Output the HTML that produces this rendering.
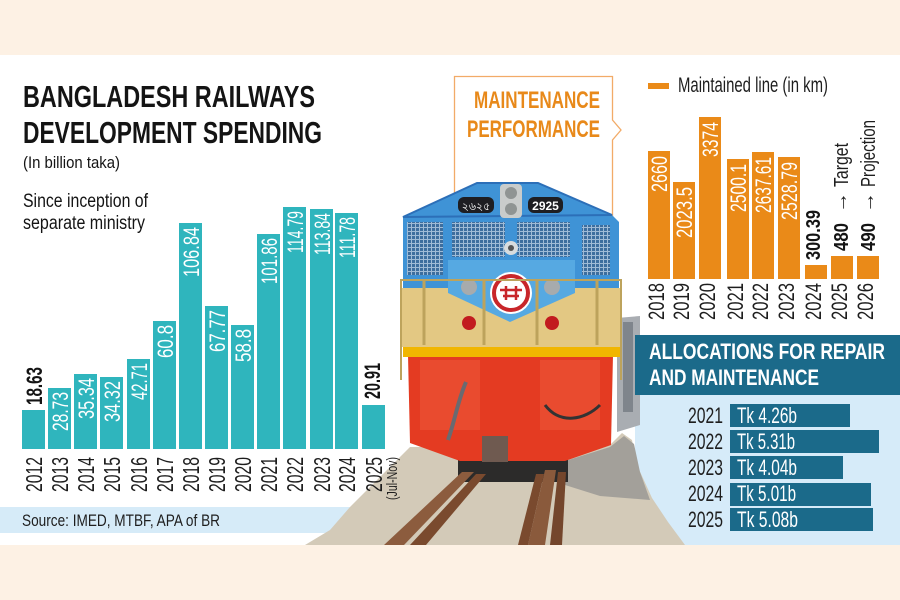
<!DOCTYPE html>
<html>
<head>
<meta charset="utf-8">
<style>
html,body{margin:0;padding:0;background:#fff;}
svg{display:block;}
</style>
</head>
<body>
<svg width="900" height="600" viewBox="0 0 900 600" xmlns="http://www.w3.org/2000/svg" font-family="'Liberation Sans', Arial, sans-serif">
<defs>
  <pattern id="mesh" width="4" height="4" patternUnits="userSpaceOnUse">
    <rect width="4" height="4" fill="#9fbbd6"/>
    <rect x="0" y="0" width="3" height="3" fill="#3d6e9e"/>
  </pattern>
</defs>

<rect width="900" height="600" fill="#ffffff"/>
<rect x="0" y="0" width="900" height="55" fill="#fdf1e4"/>
<rect x="0" y="545" width="900" height="55" fill="#fdf1e4"/>

<!-- Source band -->
<rect x="0" y="507" width="360" height="26" fill="#d6ebf8"/>

<!-- Allocation panel background -->
<rect x="635" y="395" width="265" height="150" fill="#d6ebf9"/>

<!-- grey car behind train -->
<polygon points="617,318 640,316 640,425 617,432" fill="#a9adb2"/>
<rect x="623" y="322" width="10" height="90" fill="#7f858c"/>

<!-- gravel -->
<polygon points="305,545 330,530 350,507 380,477 410,447 610,445 622,433 632,440 637,465 652,498 668,522 685,545" fill="#d3cab8"/>
<polygon points="562,462 610,447 624,436 634,444 640,472 650,500 600,496 565,485" fill="#a3a09a"/>

<!-- underframe -->
<rect x="458" y="450" width="110" height="32" fill="#2c2b2a"/>

<!-- rails -->
<polygon points="476,474 486,474 426,545 410,545" fill="#7a4a2e"/>
<polygon points="462,472 474,472 404,545 384,545" fill="#8c5c3e"/>
<polygon points="545,470 556,470 545,545 528,545" fill="#8a5a3c"/>
<polygon points="558,472 566,472 562,545 550,545" fill="#74462c"/>
<polygon points="536,474 544,474 528,545 518,545" fill="#7a4a2e"/>

<!-- Title block -->
<g fill="#141414">
  <text x="23" y="107" font-size="31" font-weight="bold" textLength="292" lengthAdjust="spacingAndGlyphs">BANGLADESH RAILWAYS</text>
  <text x="23" y="143" font-size="31" font-weight="bold" textLength="299" lengthAdjust="spacingAndGlyphs">DEVELOPMENT SPENDING</text>
  <text x="23" y="168" font-size="17" textLength="97" lengthAdjust="spacingAndGlyphs">(In billion taka)</text>
  <text x="23" y="207" font-size="19" textLength="125" lengthAdjust="spacingAndGlyphs">Since inception of</text>
  <text x="23" y="229" font-size="19" textLength="122" lengthAdjust="spacingAndGlyphs">separate ministry</text>
</g>

<text x="22" y="526" font-size="17" fill="#1e1e1e" textLength="198" lengthAdjust="spacingAndGlyphs">Source: IMED, MTBF, APA of BR</text>

<!-- Left teal bars -->
<g fill="#2fb5bd">
  <rect x="22" y="410" width="23" height="39"/>
  <rect x="48" y="388" width="23" height="61"/>
  <rect x="74" y="374" width="23" height="75"/>
  <rect x="100" y="377" width="23" height="72"/>
  <rect x="127" y="359" width="23" height="90"/>
  <rect x="153" y="321" width="23" height="128"/>
  <rect x="179" y="223" width="23" height="226"/>
  <rect x="205" y="306" width="23" height="143"/>
  <rect x="231" y="325" width="23" height="124"/>
  <rect x="257" y="234" width="23" height="215"/>
  <rect x="283" y="207" width="23" height="242"/>
  <rect x="310" y="209" width="23" height="240"/>
  <rect x="335" y="213" width="23" height="236"/>
  <rect x="362" y="405" width="23" height="44"/>
</g>
<!-- inside labels -->
<g fill="#ffffff" font-size="22" text-anchor="end">
  <text transform="translate(68,392) rotate(-90)" textLength="39" lengthAdjust="spacingAndGlyphs">28.73</text>
  <text transform="translate(94,378) rotate(-90)" textLength="41" lengthAdjust="spacingAndGlyphs">35.34</text>
  <text transform="translate(120,381) rotate(-90)" textLength="41" lengthAdjust="spacingAndGlyphs">34.32</text>
  <text transform="translate(147,363) rotate(-90)" textLength="37" lengthAdjust="spacingAndGlyphs">42.71</text>
  <text transform="translate(173,325) rotate(-90)" textLength="33" lengthAdjust="spacingAndGlyphs">60.8</text>
  <text transform="translate(199,227) rotate(-90)" textLength="50" lengthAdjust="spacingAndGlyphs">106.84</text>
  <text transform="translate(225,310) rotate(-90)" textLength="42" lengthAdjust="spacingAndGlyphs">67.77</text>
  <text transform="translate(251,329) rotate(-90)" textLength="33" lengthAdjust="spacingAndGlyphs">58.8</text>
  <text transform="translate(277,238) rotate(-90)" textLength="46" lengthAdjust="spacingAndGlyphs">101.86</text>
  <text transform="translate(303,211) rotate(-90)" textLength="42" lengthAdjust="spacingAndGlyphs">114.79</text>
  <text transform="translate(330,213) rotate(-90)" textLength="42" lengthAdjust="spacingAndGlyphs">113.84</text>
  <text transform="translate(355,217) rotate(-90)" textLength="41" lengthAdjust="spacingAndGlyphs">111.78</text>
</g>
<g fill="#141414" font-size="22" font-weight="bold">
  <text transform="translate(42,405) rotate(-90)" textLength="38" lengthAdjust="spacingAndGlyphs">18.63</text>
  <text transform="translate(380,399) rotate(-90)" textLength="36" lengthAdjust="spacingAndGlyphs">20.91</text>
</g>
<!-- left years -->
<g fill="#1e1e1e" font-size="23">
  <text transform="translate(42,492) rotate(-90)" textLength="35" lengthAdjust="spacingAndGlyphs">2012</text>
  <text transform="translate(68,492) rotate(-90)" textLength="35" lengthAdjust="spacingAndGlyphs">2013</text>
  <text transform="translate(94,492) rotate(-90)" textLength="35" lengthAdjust="spacingAndGlyphs">2014</text>
  <text transform="translate(120,492) rotate(-90)" textLength="35" lengthAdjust="spacingAndGlyphs">2015</text>
  <text transform="translate(147,492) rotate(-90)" textLength="35" lengthAdjust="spacingAndGlyphs">2016</text>
  <text transform="translate(173,492) rotate(-90)" textLength="35" lengthAdjust="spacingAndGlyphs">2017</text>
  <text transform="translate(199,492) rotate(-90)" textLength="35" lengthAdjust="spacingAndGlyphs">2018</text>
  <text transform="translate(225,492) rotate(-90)" textLength="35" lengthAdjust="spacingAndGlyphs">2019</text>
  <text transform="translate(251,492) rotate(-90)" textLength="35" lengthAdjust="spacingAndGlyphs">2020</text>
  <text transform="translate(277,492) rotate(-90)" textLength="35" lengthAdjust="spacingAndGlyphs">2021</text>
  <text transform="translate(303,492) rotate(-90)" textLength="35" lengthAdjust="spacingAndGlyphs">2022</text>
  <text transform="translate(330,492) rotate(-90)" textLength="35" lengthAdjust="spacingAndGlyphs">2023</text>
  <text transform="translate(355,492) rotate(-90)" textLength="35" lengthAdjust="spacingAndGlyphs">2024</text>
  <text transform="translate(382,492) rotate(-90)" textLength="35" lengthAdjust="spacingAndGlyphs">2025</text>
  <text transform="translate(397,500) rotate(-90)" font-size="15" textLength="43" lengthAdjust="spacingAndGlyphs">(Jul-Nov)</text>
</g>

<!-- Allocation header -->
<rect x="635" y="335" width="265" height="60" fill="#1b6a8a"/>
<text x="649" y="359" font-size="22" font-weight="bold" fill="#ffffff" textLength="236" lengthAdjust="spacingAndGlyphs">ALLOCATIONS FOR REPAIR</text>
<text x="649" y="385" font-size="22" font-weight="bold" fill="#ffffff" textLength="170" lengthAdjust="spacingAndGlyphs">AND MAINTENANCE</text>

<!-- Orange chart legend -->
<rect x="648" y="83" width="21" height="6" fill="#ea8a18"/>
<text x="678" y="92" font-size="21" fill="#1e1e1e" textLength="150" lengthAdjust="spacingAndGlyphs">Maintained line (in km)</text>

<!-- Orange bars -->
<g fill="#ea8a18">
  <rect x="648" y="151" width="22" height="128"/>
  <rect x="673" y="182" width="22" height="97"/>
  <rect x="699" y="117" width="22" height="162"/>
  <rect x="727" y="159" width="22" height="120"/>
  <rect x="752" y="152" width="22" height="127"/>
  <rect x="778" y="157" width="22" height="122"/>
  <rect x="805" y="265" width="22" height="14"/>
  <rect x="831" y="256" width="22" height="23"/>
  <rect x="857" y="256" width="22" height="23"/>
</g>
<g fill="#ffffff" font-size="22" text-anchor="end">
  <text transform="translate(667,156) rotate(-90)" textLength="36" lengthAdjust="spacingAndGlyphs">2660</text>
  <text transform="translate(692,187) rotate(-90)" textLength="51" lengthAdjust="spacingAndGlyphs">2023.5</text>
  <text transform="translate(718,122) rotate(-90)" textLength="35" lengthAdjust="spacingAndGlyphs">3374</text>
  <text transform="translate(746,164) rotate(-90)" textLength="48" lengthAdjust="spacingAndGlyphs">2500.1</text>
  <text transform="translate(771,157) rotate(-90)" textLength="56" lengthAdjust="spacingAndGlyphs">2637.61</text>
  <text transform="translate(797,162) rotate(-90)" textLength="58" lengthAdjust="spacingAndGlyphs">2528.79</text>
</g>
<g fill="#141414" font-size="20" font-weight="bold">
  <text transform="translate(820,260) rotate(-90)" textLength="50" lengthAdjust="spacingAndGlyphs">300.39</text>
  <text transform="translate(848,251) rotate(-90)" textLength="28" lengthAdjust="spacingAndGlyphs">480</text>
  <text transform="translate(875,251) rotate(-90)" textLength="28" lengthAdjust="spacingAndGlyphs">490</text>
</g>
<g fill="#1e1e1e" font-size="20">
  <text transform="translate(847,213) rotate(-90)" textLength="21" lengthAdjust="spacingAndGlyphs">→</text>
  <text transform="translate(848,187) rotate(-90)" textLength="44" lengthAdjust="spacingAndGlyphs">Target</text>
  <text transform="translate(874,213) rotate(-90)" textLength="21" lengthAdjust="spacingAndGlyphs">→</text>
  <text transform="translate(875,187) rotate(-90)" textLength="67" lengthAdjust="spacingAndGlyphs">Projection</text>
</g>
<g fill="#1e1e1e" font-size="22">
  <text transform="translate(664,320) rotate(-90)" textLength="37" lengthAdjust="spacingAndGlyphs">2018</text>
  <text transform="translate(689,320) rotate(-90)" textLength="37" lengthAdjust="spacingAndGlyphs">2019</text>
  <text transform="translate(715,320) rotate(-90)" textLength="37" lengthAdjust="spacingAndGlyphs">2020</text>
  <text transform="translate(743,320) rotate(-90)" textLength="37" lengthAdjust="spacingAndGlyphs">2021</text>
  <text transform="translate(768,320) rotate(-90)" textLength="37" lengthAdjust="spacingAndGlyphs">2022</text>
  <text transform="translate(794,320) rotate(-90)" textLength="37" lengthAdjust="spacingAndGlyphs">2023</text>
  <text transform="translate(821,320) rotate(-90)" textLength="37" lengthAdjust="spacingAndGlyphs">2024</text>
  <text transform="translate(847,320) rotate(-90)" textLength="37" lengthAdjust="spacingAndGlyphs">2025</text>
  <text transform="translate(873,320) rotate(-90)" textLength="37" lengthAdjust="spacingAndGlyphs">2026</text>
</g>

<!-- Maintenance performance box -->
<path d="M454.5,200 V76.5 H612.5 V120 L621,130 L612.5,140 V220" fill="none" stroke="#f2ab68" stroke-width="1.3"/>
<text x="474" y="108" font-size="24" font-weight="bold" fill="#e8891a" textLength="126" lengthAdjust="spacingAndGlyphs">MAINTENANCE</text>
<text x="467" y="137" font-size="24" font-weight="bold" fill="#e8891a" textLength="133" lengthAdjust="spacingAndGlyphs">PERFORMANCE</text>

<!-- Train body -->
<polygon points="408,355 613,355 611,445 565,461 460,461 410,443" fill="#e43b22"/>
<rect x="420" y="360" width="60" height="70" fill="#ec5638" opacity="0.6"/>
<rect x="540" y="360" width="60" height="70" fill="#ec5638" opacity="0.6"/>
<rect x="482" y="436" width="26" height="26" fill="#6f5a50"/>
<path d="M466,382 C458,400 455,420 448,440" stroke="#6a6a70" stroke-width="4" fill="none"/>
<path d="M545,405 C560,425 585,420 600,405" stroke="#333" stroke-width="3" fill="none"/>
<rect x="403" y="346" width="217" height="11" fill="#f1b600"/>
<polygon points="403,217 477,183 538,183 612,215 619,222 619,292 403,292" fill="#3f93d6"/>
<polygon points="403,217 477,183 538,183 612,215" fill="none" stroke="#2c6fb8" stroke-width="2"/>
<rect x="402" y="288" width="218" height="59" fill="#e3c883"/>
<polygon points="448,260 575,260 575,293 510,322 448,293" fill="#56a9e2"/>
<rect x="407" y="222" width="36" height="53" fill="url(#mesh)"/>
<rect x="452" y="222" width="53" height="35" fill="url(#mesh)"/>
<rect x="517" y="222" width="53" height="35" fill="url(#mesh)"/>
<rect x="582" y="225" width="28" height="50" fill="url(#mesh)"/>
<rect x="458" y="197" width="36" height="16" rx="6" fill="#1e1e22"/>
<rect x="528" y="197" width="35" height="16" rx="6" fill="#1e1e22"/>
<text x="476" y="210" font-size="11" fill="#ffffff" text-anchor="middle" font-family="'Liberation Sans', 'DejaVu Sans', sans-serif">২৬২৫</text>
<text x="545.5" y="210" font-size="12" font-weight="bold" fill="#ffffff" text-anchor="middle">2925</text>
<rect x="500" y="184" width="22" height="34" rx="4" fill="#c9cccb"/>
<circle cx="511" cy="193" r="6" fill="#8f9493"/>
<circle cx="511" cy="209" r="6" fill="#8f9493"/>
<circle cx="511" cy="248" r="7" fill="#d8dcde"/>
<circle cx="511" cy="248" r="3" fill="#555"/>
<circle cx="511" cy="293" r="21" fill="#ffffff"/>
<circle cx="511" cy="293" r="17" fill="none" stroke="#c8262a" stroke-width="4"/>
<path d="M500,290 h22 M503,296 h16 M506,286 v14 M516,286 v14" stroke="#c8262a" stroke-width="2.5" fill="none"/>
<circle cx="469" cy="287" r="8" fill="#a7abad"/>
<circle cx="552" cy="287" r="8" fill="#a7abad"/>
<circle cx="469" cy="323" r="7" fill="#c21b1f"/>
<circle cx="552" cy="323" r="7" fill="#c21b1f"/>
<g stroke="#bda35c" fill="none">
  <path d="M401,380 V280 H621 V380" stroke-width="2"/>
  <path d="M424,280 V345 M484,280 V345 M537,280 V345 M597,280 V345" stroke-width="3"/>
</g>

<!-- Allocation rows -->
<g fill="#1b6a8a">
  <rect x="730" y="404" width="120" height="23"/>
  <rect x="730" y="430" width="149" height="23"/>
  <rect x="730" y="456" width="113" height="23"/>
  <rect x="730" y="483" width="141" height="23"/>
  <rect x="730" y="508" width="143" height="23"/>
</g>
<g fill="#1e1e1e" font-size="22" text-anchor="end">
  <text x="723" y="423" textLength="35" lengthAdjust="spacingAndGlyphs">2021</text>
  <text x="723" y="449" textLength="35" lengthAdjust="spacingAndGlyphs">2022</text>
  <text x="723" y="475" textLength="35" lengthAdjust="spacingAndGlyphs">2023</text>
  <text x="723" y="501" textLength="35" lengthAdjust="spacingAndGlyphs">2024</text>
  <text x="723" y="527" textLength="35" lengthAdjust="spacingAndGlyphs">2025</text>
</g>
<g fill="#ffffff" font-size="22">
  <text x="737" y="423" textLength="60" lengthAdjust="spacingAndGlyphs">Tk 4.26b</text>
  <text x="737" y="449" textLength="58" lengthAdjust="spacingAndGlyphs">Tk 5.31b</text>
  <text x="737" y="475" textLength="60" lengthAdjust="spacingAndGlyphs">Tk 4.04b</text>
  <text x="737" y="501" textLength="59" lengthAdjust="spacingAndGlyphs">Tk 5.01b</text>
  <text x="737" y="527" textLength="61" lengthAdjust="spacingAndGlyphs">Tk 5.08b</text>
</g>
</svg>
</body>
</html>
